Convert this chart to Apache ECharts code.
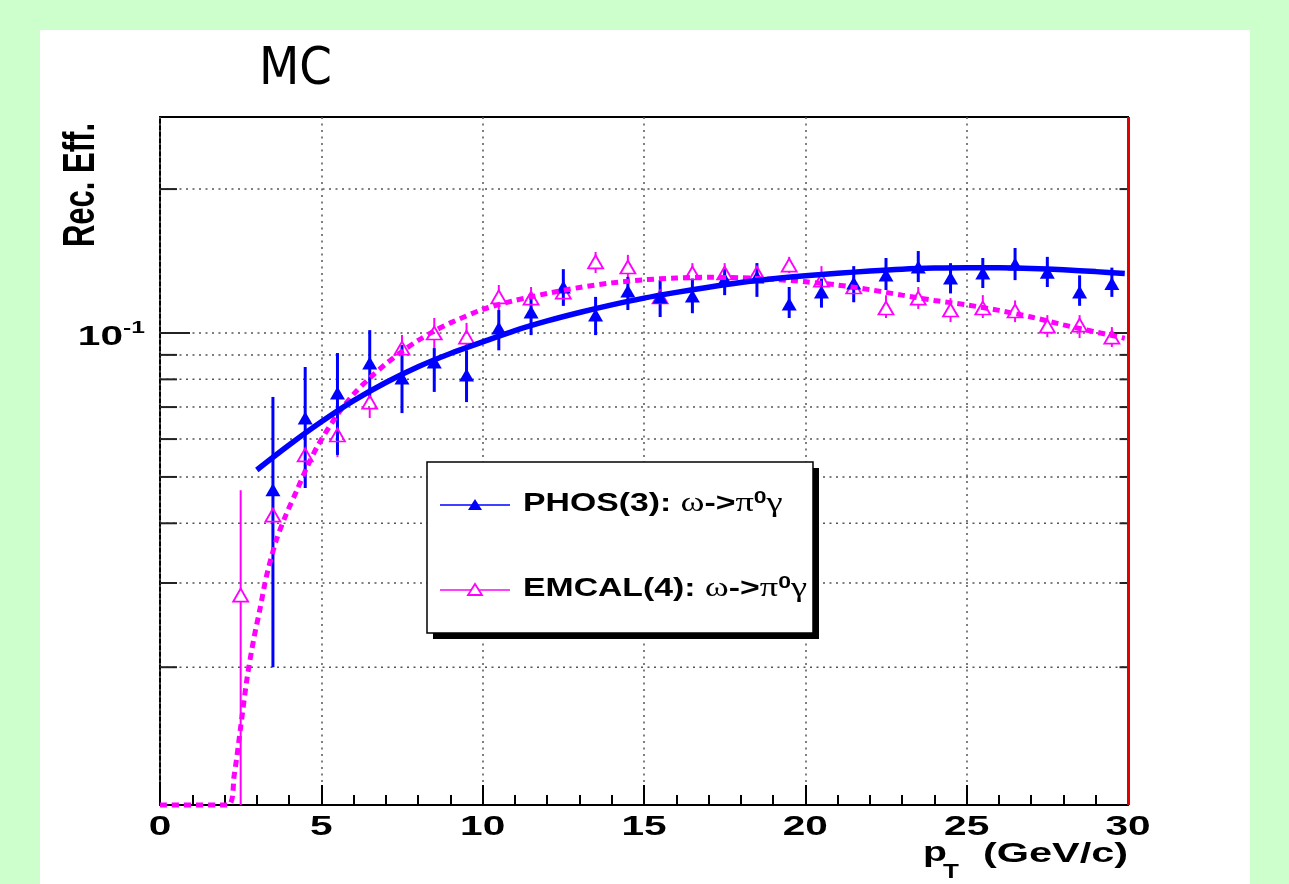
<!DOCTYPE html>
<html><head><meta charset="utf-8">
<script src="https://cdn.jsdelivr.net/npm/echarts@6/dist/echarts.min.js"></script>
<style>
html,body{margin:0;padding:0;background:#ccffcc;width:1289px;height:884px;overflow:hidden}
#c{position:absolute;left:40px;top:30px;width:1210px;height:854px;background:#fff}
</style>
</head><body><div id="c"></div>
<script>
// ---- axis ranges / ticks ----
const yMin = 0.0103, yMax = 0.283;
const xTickVals = [0, 5, 10, 15, 20, 25, 30];
const xTickLabels = ['0', '5', '10', '15', '20', '25', '30'];
const yGridVals = [0.02, 0.03, 0.04, 0.05, 0.06, 0.07, 0.08, 0.09, 0.1, 0.2];
const yMajorVals = [0.1];
const yLabelVals = [0.1];
const yLabelBase = ['10'];
const yLabelExp = ['-1'];

// ---- PHOS(3) points ----
const phosX  = [3.5,4.5,5.5,6.5,7.5,8.5,9.5,10.5,11.5,12.5,13.5,14.5,15.5,16.5,17.5,18.5,19.5,20.5,21.5,22.5,23.5,24.5,25.5,26.5,27.5,28.5,29.5];
const phosY  = [0.047,0.0664,0.0749,0.0866,0.0805,0.087,0.0817,0.1024,0.1106,0.1248,0.109,0.1224,0.119,0.1195,0.1297,0.131,0.115,0.1218,0.1272,0.1322,0.1374,0.1303,0.1335,0.1394,0.134,0.1218,0.127];
const phosHi = [0.0735,0.0849,0.0908,0.1014,0.0944,0.093,0.092,0.1117,0.121,0.136,0.119,0.131,0.129,0.130,0.136,0.140,0.1248,0.130,0.138,0.1435,0.1484,0.140,0.1435,0.1506,0.1443,0.132,0.137];
const phosLo = [0.020,0.0474,0.0556,0.073,0.068,0.0753,0.0717,0.092,0.099,0.114,0.099,0.1117,0.108,0.110,0.120,0.119,0.1075,0.113,0.116,0.123,0.1278,0.121,0.1242,0.129,0.1248,0.114,0.119];

// ---- EMCAL(4) points ----
const emcX  = [2.5,3.5,4.5,5.5,6.5,7.5,8.5,9.5,10.5,11.5,12.5,13.5,14.5,15.5,16.5,17.5,18.5,19.5,20.5,21.5,22.5,23.5,24.5,25.5,26.5,27.5,28.5,29.5];
const emcY  = [0.0283,0.0416,0.0556,0.0612,0.0717,0.093,0.100,0.098,0.119,0.1183,0.1218,0.1408,0.1374,0.119,0.1335,0.1335,0.1335,0.1387,0.129,0.1248,0.1128,0.1183,0.1117,0.1128,0.1112,0.1034,0.1039,0.098];
const emcHi = [0.0469,0.045,0.0627,0.0658,0.0771,0.099,0.1075,0.105,0.126,0.1248,0.130,0.1477,0.1457,0.127,0.140,0.140,0.140,0.1443,0.138,0.131,0.120,0.1248,0.1183,0.120,0.117,0.109,0.109,0.1029];
const emcLo = [0.0103,0.038,0.0474,0.0550,0.0664,0.0866,0.093,0.092,0.1117,0.1117,0.114,0.1335,0.1303,0.108,0.127,0.127,0.127,0.1335,0.120,0.116,0.1075,0.1123,0.1054,0.1075,0.1054,0.098,0.0976,0.0935];

// ---- fit curves ----
const phosFitX = [3,4,5,6,7,8,9,10,11,12,13,14,15,16,17,18,19,20,21,22,23,24,25,26,27,28,29,29.9];
const phosFitY = [0.0517,0.0583,0.0652,0.0722,0.0788,0.0850,0.0906,0.0958,0.1012,0.1060,0.1104,0.1145,0.1183,0.1216,0.1247,0.1275,0.1298,0.1317,0.1333,0.1348,0.1360,0.1367,0.1370,0.1369,0.1364,0.1356,0.1344,0.1332];
const emcFitX = [0,2.1,2.3,2.5,2.7,2.9,3.1,3.3,3.6,3.9,4.25,4.55,4.9,5.5,6,6.5,7,7.5,8,8.5,9,10,11,12,13,14,15,16,17,18,19,20,21,22,23,24,25,26,27,28,29,29.9];
const emcFitY = [0.0103,0.0103,0.0119,0.0150,0.0190,0.0228,0.0265,0.0310,0.0368,0.0416,0.0470,0.0523,0.0583,0.0675,0.0745,0.0805,0.0862,0.0915,0.0965,0.1010,0.1050,0.1120,0.1170,0.1210,0.1245,0.1273,0.1292,0.1303,0.1308,0.1305,0.1295,0.1280,0.1260,0.1232,0.1200,0.1170,0.1145,0.1115,0.1080,0.1040,0.1005,0.0975];

const BLUE = '#0000ff', MAG = '#ff00ff';
const SANS = "'Liberation Sans', Arial, sans-serif";
const SERIF = "'Liberation Serif', 'Times New Roman', serif";

const zip2 = (a, b) => a.map((v, i) => [v, b[i]]);

function errRender(color, width, gap) {
  return function (params, api) {
    const x = api.value(0), y = api.value(1), lo = api.value(2), hi = api.value(3);
    const pc = api.coord([x, y]);
    const pl = api.coord([x, Math.max(lo, yMin)]);
    const ph = api.coord([x, hi]);
    const ch = [];
    if (ph[1] < pc[1] - gap) ch.push({type: 'line', shape: {x1: ph[0], y1: ph[1], x2: pc[0], y2: pc[1] - gap}, style: {stroke: color, lineWidth: width}});
    if (pl[1] > pc[1] + gap) ch.push({type: 'line', shape: {x1: pc[0], y1: pc[1] + gap, x2: pl[0], y2: pl[1]}, style: {stroke: color, lineWidth: width}});
    return {type: 'group', children: ch};
  };
}

const chart = echarts.init(document.getElementById('c'), null, {renderer: 'canvas'});
const option = {
  animation: false,
  backgroundColor: '#ffffff',
  grid: {left: 120, right: 122, top: 87, bottom: 79, show: true, borderColor: '#000', borderWidth: 2, backgroundColor: 'transparent'},
  xAxis: {
    type: 'value', min: 0, max: 30, interval: 5,
    axisLine: {show: true, lineStyle: {color: '#000', width: 2}},
    axisTick: {show: true, inside: true, length: 20, lineStyle: {color: '#000', width: 2}},
    minorTick: {show: true, splitNumber: 5, length: 10, lineStyle: {color: '#000', width: 2}},
    axisLabel: {show: false},
    splitLine: {show: true, lineStyle: {color: '#555', width: 1.5, type: [2, 4.5]}}
  },
  yAxis: {
    type: 'log', logBase: 10, min: yMin, max: yMax,
    axisLine: {show: false}, axisTick: {show: false}, axisLabel: {show: false},
    splitLine: {show: false}, minorTick: {show: false}
  },
  series: [
    { // y grid lines + ticks
      type: 'custom', z: 1, silent: true,
      data: yGridVals.map(v => [0, v]),
      encode: {x: 0, y: 1},
      renderItem: function (params, api) {
        const v = api.value(1);
        const L = api.coord([0, v]), R = api.coord([30, v]);
        const len = yMajorVals.indexOf(v) >= 0 ? 30 : 17;
        return {type: 'group', children: [
          {type: 'line', shape: {x1: L[0], y1: L[1], x2: R[0], y2: R[1]}, style: {stroke: '#555', lineWidth: 1.5, lineDash: [2, 4.5]}},
          {type: 'line', shape: {x1: L[0], y1: L[1], x2: L[0] + len, y2: L[1]}, style: {stroke: '#222', lineWidth: 2}},
          {type: 'line', shape: {x1: R[0] - len / 2, y1: R[1], x2: R[0], y2: R[1]}, style: {stroke: '#222', lineWidth: 2}}
        ]};
      }
    },
    { // x tick labels
      type: 'custom', z: 5, silent: true, clip: false,
      data: xTickVals.map(v => [v, yMin]),
      encode: {x: 0, y: 1},
      renderItem: function (params, api) {
        const p = api.coord([api.value(0), yMin]);
        return {type: 'text', x: p[0], y: p[1] + 22, scaleX: 1.45,
          style: {text: xTickLabels[params.dataIndex], fontSize: 28, fontWeight: 'bold', fontFamily: SANS, fill: '#000', align: 'center', verticalAlign: 'middle'}};
      }
    },
    { // y tick labels (10^-1)
      type: 'custom', z: 5, silent: true, clip: false,
      data: yLabelVals.map(v => [0, v]),
      encode: {x: 0, y: 1},
      renderItem: function (params, api) {
        const p = api.coord([0, api.value(1)]);
        const i = params.dataIndex;
        return {type: 'group', children: [
          {type: 'text', x: p[0] - 37, y: p[1] + 4.5, scaleX: 1.45,
            style: {text: yLabelBase[i], fontSize: 28, fontWeight: 'bold', fontFamily: SANS, fill: '#000', align: 'right', verticalAlign: 'middle'}},
          {type: 'text', x: p[0] - 37, y: p[1] - 5, scaleX: 1.45,
            style: {text: yLabelExp[i], fontSize: 17, fontWeight: 'bold', fontFamily: SANS, fill: '#000', align: 'left', verticalAlign: 'middle'}}
        ]};
      }
    },
    { // EMCAL error bars
      type: 'custom', z: 3, silent: true, clip: false,
      data: emcX.map((x, i) => [x, emcY[i], emcLo[i], emcHi[i]]),
      encode: {x: 0, y: [1, 2, 3]},
      renderItem: errRender(MAG, 2, 6)
    },
    {
      type: 'scatter', name: 'EMCAL(4)', z: 4,
      data: zip2(emcX, emcY),
      symbol: 'triangle', symbolSize: [15, 13],
      itemStyle: {color: 'rgba(255,255,255,0)', borderColor: MAG, borderWidth: 1.8, opacity: 1}
    },
    { // PHOS error bars
      type: 'custom', z: 3, silent: true, clip: false,
      data: phosX.map((x, i) => [x, phosY[i], phosLo[i], phosHi[i]]),
      encode: {x: 0, y: [1, 2, 3]},
      renderItem: errRender(BLUE, 3, 0)
    },
    {
      type: 'scatter', name: 'PHOS(3)', z: 4,
      data: zip2(phosX, phosY),
      symbol: 'triangle', symbolSize: [15, 13],
      itemStyle: {color: BLUE, opacity: 1}
    },
    {
      type: 'line', name: 'EMCAL fit', z: 6, clip: false,
      data: zip2(emcFitX, emcFitY),
      showSymbol: false, smooth: 0.3,
      lineStyle: {color: MAG, width: 5, type: [7, 5], cap: 'butt'}
    },
    {
      type: 'line', name: 'PHOS fit', z: 7,
      data: zip2(phosFitX, phosFitY),
      showSymbol: false, smooth: 0.3,
      lineStyle: {color: BLUE, width: 5.5},
      markLine: {silent: true, symbol: 'none', label: {show: false},
        lineStyle: {color: '#e00000', width: 3, type: 'solid'},
        data: [{xAxis: 30}]}
    }
  ],
  graphic: [
    {type: 'text', x: 255.5, y: 40, scaleX: 0.9, z: 20,
      style: {text: 'MC', fontSize: 52, fontFamily: "'Comic Sans MS', 'DejaVu Sans', sans-serif", fill: '#000', align: 'center', verticalAlign: 'middle'}},
    {type: 'text', x: 42, y: 155, rotation: Math.PI / 2, scaleY: 1.45, z: 20,
      style: {text: 'Rec. Eff.', fontSize: 31, fontWeight: 'bold', fontFamily: SANS, fill: '#000', align: 'center', verticalAlign: 'middle'}},
    {type: 'text', x: 883, y: 824, scaleX: 1.45, z: 20,
      style: {text: 'p', fontSize: 27, fontWeight: 'bold', fontFamily: SANS, fill: '#000', align: 'left', verticalAlign: 'middle'}},
    {type: 'text', x: 903, y: 842, scaleX: 1.3, z: 20,
      style: {text: 'T', fontSize: 20, fontWeight: 'bold', fontFamily: SANS, fill: '#000', align: 'left', verticalAlign: 'middle'}},
    {type: 'text', x: 1088, y: 824, scaleX: 1.48, z: 20,
      style: {text: '(GeV/c)', fontSize: 28, fontWeight: 'bold', fontFamily: SANS, fill: '#000', align: 'right', verticalAlign: 'middle'}},
    // legend box
    {type: 'rect', z: 30, shape: {x: 393, y: 438, width: 386, height: 171}, style: {fill: '#000'}},
    {type: 'rect', z: 31, shape: {x: 387, y: 432, width: 386, height: 171}, style: {fill: '#fff', stroke: '#000', lineWidth: 1.5}},
    {type: 'line', z: 32, shape: {x1: 400, y1: 475, x2: 470, y2: 475}, style: {stroke: BLUE, lineWidth: 1.5}},
    {type: 'polygon', z: 33, shape: {points: [[428, 480], [442, 480], [435, 469]]}, style: {fill: BLUE}},
    {type: 'line', z: 32, shape: {x1: 400, y1: 560, x2: 470, y2: 560}, style: {stroke: MAG, lineWidth: 1.5}},
    {type: 'polygon', z: 33, shape: {points: [[428, 565], [442, 565], [435, 554]]}, style: {fill: '#fff', stroke: MAG, lineWidth: 1.8}},
    {type: 'text', z: 33, x: 483, y: 474, scaleX: 1.35,
      style: {text: '{b|PHOS(3): }{g|ω}{b|->}{g|π}{s|0}{g|γ}', verticalAlign: 'middle', align: 'left',
        rich: {
          b: {fontSize: 25, fontWeight: 'bold', fontFamily: SANS, fill: '#000', lineHeight: 28},
          g: {fontSize: 27, fontFamily: SERIF, fill: '#000', lineHeight: 28},
          s: {fontSize: 17, fontWeight: 'bold', fontFamily: SANS, fill: '#000', verticalAlign: 'top', lineHeight: 18}
        }}},
    {type: 'text', z: 33, x: 483, y: 559, scaleX: 1.35,
      style: {text: '{b|EMCAL(4): }{g|ω}{b|->}{g|π}{s|0}{g|γ}', verticalAlign: 'middle', align: 'left',
        rich: {
          b: {fontSize: 25, fontWeight: 'bold', fontFamily: SANS, fill: '#000', lineHeight: 28},
          g: {fontSize: 27, fontFamily: SERIF, fill: '#000', lineHeight: 28},
          s: {fontSize: 17, fontWeight: 'bold', fontFamily: SANS, fill: '#000', verticalAlign: 'top', lineHeight: 18}
        }}}
  ]
};
chart.setOption(option);
</script>
</body></html>
